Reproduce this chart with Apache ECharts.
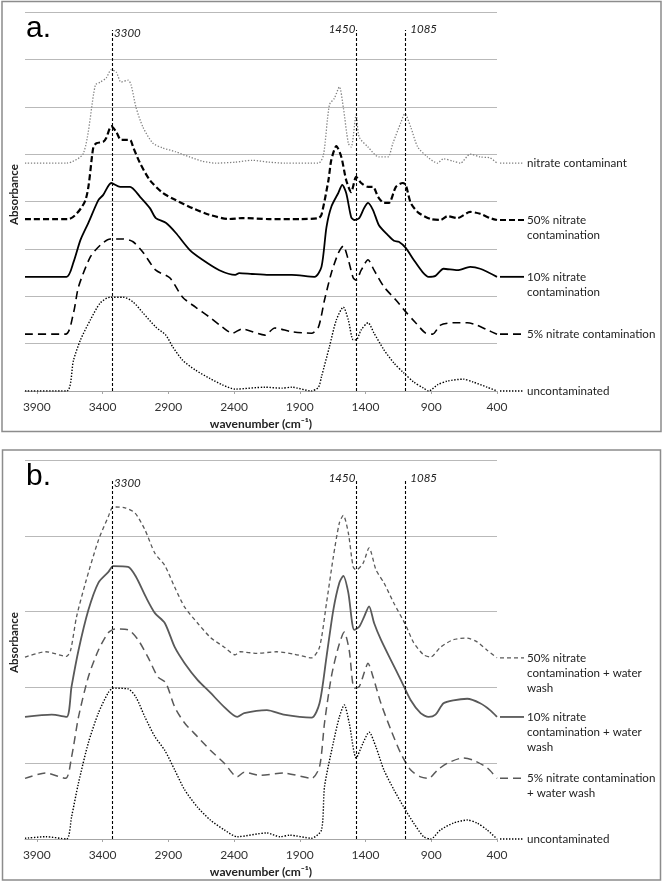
<!DOCTYPE html>
<html><head><meta charset="utf-8">
<script src="https://cdn.jsdelivr.net/npm/echarts@6/dist/echarts.min.js"></script>
<style>html,body{margin:0;padding:0;background:#fff}#c{width:664px;height:883px}</style>
</head><body><div id="c"></div>
<script>
// ---------- data (wavenumber cm-1, absorbance in stacked offset units) ----------
const wavenumberTicks = [3900, 3400, 2900, 2400, 1900, 1400, 900, 400];
const markerLabels = ['3300', '1450', '1085'];
const markerPositions = [3328, 1470, 1097];
const markerTopA = 7.62;
const markerTopB = 4.74;
const labelsA = ['nitrate contaminant', '50% nitrate\ncontamination', '10% nitrate\ncontamination', '5% nitrate contamination', 'uncontaminated'];
const labelsB = ['50% nitrate\ncontamination + water\nwash', '10% nitrate\ncontamination + water\nwash', '5% nitrate contamination\n+ water wash', 'uncontaminated'];

const nitrateContaminant = [[3990,4.81],[3674,4.81],[3545,5.02],[3455,6.46],[3417,6.52],[3372,6.61],[3334,6.78],[3296,6.73],[3259,6.52],[3206,6.56],[3183,6.46],[3146,5.99],[3093,5.57],[3017,5.23],[2942,5.13],[2844,5.05],[2738,4.94],[2640,4.85],[2542,4.81],[2391,4.83],[2263,4.87],[2135,4.83],[2014,4.81],[1758,4.81],[1720,4.98],[1675,6.04],[1637,6.18],[1599,6.42],[1569,5.99],[1531,5.23],[1509,5.15],[1471,5.83],[1448,5.36],[1381,5.15],[1298,4.94],[1230,4.94],[1192,5.23],[1132,5.66],[1101,5.85],[1056,5.57],[1003,5.15],[928,4.94],[853,4.81],[807,4.90],[732,4.85],[679,4.81],[604,5.00],[528,4.94],[453,4.92],[400,4.81]];
const nitrate50 = [[3990,3.63],[3659,3.63],[3530,4.03],[3470,5.15],[3447,5.23],[3395,5.26],[3372,5.34],[3334,5.59],[3296,5.47],[3259,5.30],[3191,5.30],[3168,5.15],[3115,4.81],[3040,4.45],[2942,4.18],[2844,4.03],[2716,3.86],[2587,3.72],[2437,3.63],[2339,3.65],[2135,3.63],[1886,3.63],[1758,3.65],[1735,3.72],[1682,4.45],[1660,4.88],[1622,5.17],[1584,4.94],[1547,4.45],[1509,4.20],[1471,4.52],[1433,4.39],[1381,4.31],[1343,4.31],[1305,4.10],[1260,3.97],[1222,3.97],[1169,4.31],[1117,4.39],[1094,4.35],[1056,3.97],[996,3.76],[905,3.63],[830,3.61],[777,3.69],[702,3.65],[604,3.78],[528,3.74],[453,3.65],[400,3.61]];
const nitrate10 = [[3990,2.41],[3674,2.41],[3621,2.72],[3568,3.19],[3508,3.55],[3432,4.03],[3395,4.14],[3334,4.39],[3266,4.31],[3191,4.31],[3115,4.10],[3040,3.86],[2995,3.65],[2919,3.55],[2844,3.34],[2738,2.98],[2640,2.77],[2512,2.55],[2391,2.45],[2361,2.49],[2263,2.47],[2135,2.45],[1961,2.45],[1788,2.41],[1735,2.62],[1697,3.46],[1660,3.89],[1607,4.18],[1577,4.35],[1547,4.18],[1509,3.67],[1486,3.61],[1448,3.65],[1411,3.86],[1381,3.97],[1343,3.82],[1298,3.50],[1230,3.29],[1184,3.17],[1147,3.15],[1094,3.02],[1034,2.77],[966,2.51],[920,2.41],[868,2.43],[807,2.58],[702,2.55],[604,2.62],[528,2.58],[400,2.41]];
const nitrate5 = [[3990,1.20],[3681,1.20],[3621,1.65],[3583,2.20],[3493,2.83],[3417,3.08],[3342,3.21],[3244,3.21],[3168,3.15],[3093,2.93],[2995,2.55],[2889,2.39],[2791,1.98],[2693,1.77],[2587,1.56],[2489,1.35],[2414,1.22],[2339,1.31],[2165,1.18],[2090,1.33],[1961,1.25],[1811,1.22],[1758,1.35],[1712,1.92],[1660,2.49],[1607,2.91],[1569,3.06],[1531,2.77],[1494,2.39],[1471,2.34],[1433,2.55],[1381,2.77],[1335,2.55],[1260,2.20],[1169,1.92],[1094,1.67],[1019,1.44],[943,1.22],[890,1.20],[830,1.39],[732,1.44],[626,1.44],[551,1.39],[475,1.29],[400,1.20]];
const uncontaminatedA = [[3990,0],[3674,0],[3621,0.65],[3568,1.08],[3493,1.50],[3417,1.86],[3342,1.98],[3244,1.98],[3168,1.88],[3093,1.65],[2995,1.35],[2919,1.18],[2866,0.93],[2791,0.65],[2693,0.44],[2587,0.27],[2489,0.13],[2391,0.04],[2165,0.08],[2037,0.06],[1961,0.08],[1811,0],[1758,0.08],[1735,0.30],[1675,0.93],[1622,1.50],[1569,1.77],[1531,1.50],[1494,1.08],[1471,1.08],[1433,1.29],[1381,1.44],[1335,1.22],[1260,0.87],[1184,0.59],[1109,0.38],[1034,0.19],[958,0.06],[920,0],[853,0.13],[777,0.21],[656,0.25],[581,0.19],[475,0.08],[400,0]];

const wash50 = [[3990,2.40],[3832,2.47],[3674,2.41],[3643,2.49],[3598,2.93],[3530,3.38],[3432,3.94],[3357,4.25],[3319,4.38],[3229,4.37],[3153,4.30],[3078,4.08],[3002,3.77],[2927,3.61],[2851,3.32],[2776,3.06],[2678,2.85],[2580,2.66],[2474,2.53],[2391,2.43],[2354,2.47],[2225,2.45],[2075,2.47],[1946,2.44],[1811,2.39],[1750,2.53],[1697,3.11],[1645,3.72],[1599,4.17],[1569,4.27],[1531,4.04],[1494,3.59],[1471,3.55],[1418,3.64],[1373,3.84],[1320,3.55],[1260,3.38],[1184,3.11],[1094,2.82],[1034,2.59],[958,2.43],[905,2.40],[830,2.53],[732,2.63],[626,2.65],[551,2.60],[475,2.49],[400,2.39]];
const wash10 = [[3990,1.61],[3787,1.64],[3674,1.61],[3636,2.01],[3583,2.49],[3508,3.02],[3432,3.38],[3357,3.52],[3319,3.60],[3206,3.59],[3146,3.46],[3070,3.19],[3002,2.98],[2927,2.85],[2851,2.53],[2776,2.32],[2678,2.10],[2580,1.93],[2474,1.74],[2376,1.61],[2323,1.66],[2150,1.70],[2022,1.64],[1811,1.60],[1750,1.79],[1697,2.40],[1645,3.02],[1599,3.38],[1569,3.47],[1531,3.25],[1486,2.76],[1448,2.80],[1411,2.93],[1373,3.07],[1335,2.85],[1283,2.63],[1207,2.36],[1132,2.10],[1056,1.83],[981,1.66],[920,1.61],[868,1.64],[807,1.79],[732,1.83],[626,1.85],[528,1.79],[453,1.70],[400,1.61]];
const wash5 = [[3990,0.80],[3832,0.87],[3681,0.80],[3636,1.08],[3583,1.61],[3508,2.14],[3432,2.49],[3357,2.72],[3304,2.77],[3206,2.76],[3131,2.63],[3055,2.40],[2980,2.14],[2919,2.06],[2851,1.74],[2776,1.53],[2678,1.35],[2580,1.17],[2474,1.00],[2376,0.82],[2323,0.88],[2203,0.84],[2022,0.87],[1811,0.80],[1750,0.95],[1712,1.53],[1660,2.14],[1607,2.53],[1562,2.73],[1524,2.49],[1486,1.99],[1448,2.01],[1411,2.19],[1381,2.32],[1343,2.14],[1283,1.79],[1207,1.44],[1132,1.13],[1056,0.91],[981,0.82],[920,0.80],[853,0.91],[777,1.00],[656,1.07],[581,1.04],[475,0.94],[400,0.80]];
const uncontaminatedB = [[3990,0.01],[3832,0.03],[3674,0],[3636,0.29],[3583,0.74],[3508,1.27],[3432,1.66],[3357,1.93],[3319,1.99],[3206,1.98],[3146,1.87],[3078,1.61],[3002,1.35],[2927,1.17],[2851,0.91],[2776,0.65],[2678,0.42],[2580,0.25],[2474,0.12],[2376,0.03],[2150,0.08],[2052,0.03],[1976,0.05],[1811,0.01],[1735,0.12],[1712,0.69],[1645,1.27],[1599,1.61],[1562,1.77],[1524,1.53],[1471,1.07],[1418,1.27],[1373,1.41],[1320,1.21],[1260,0.91],[1184,0.65],[1109,0.42],[1034,0.21],[958,0.03],[905,0],[830,0.12],[732,0.21],[626,0.25],[551,0.21],[475,0.12],[400,0]];

// ---------- styles ----------
const stylesA = [
  {color:'#808080', width:1.3, dash:[1.3,1.7]},
  {color:'#000000', width:2.2, dash:[6,3]},
  {color:'#000000', width:1.8, dash:'solid'},
  {color:'#000000', width:1.6, dash:[8,5]},
  {color:'#000000', width:1.4, dash:[1.4,1.6]}
];
const stylesB = [
  {color:'#595959', width:1.3, dash:[4,3]},
  {color:'#595959', width:1.8, dash:'solid'},
  {color:'#595959', width:1.5, dash:[8,5]},
  {color:'#000000', width:1.4, dash:[1.4,1.6]}
];
const markerDx = [2, -1, 5];
const markerDy = [3.5, -1, -1];
const markerAlign = ['left', 'right', 'left'];
const FONT = 'Lato';
const GRID_COLOR = '#b9b9b9';

const panels = [
  {data:[nitrateContaminant, nitrate50, nitrate10, nitrate5, uncontaminatedA], labels:labelsA, styles:stylesA, top:markerTopA, ymax:8, letter:'a.'},
  {data:[wash50, wash10, wash5, uncontaminatedB], labels:labelsB, styles:stylesB, top:markerTopB, ymax:5, letter:'b.'}
];

const chart = echarts.init(document.getElementById('c'), null, {renderer:'canvas'});

const grids = [
  {left:21, right:167, top:12, height:379},
  {left:21, right:167, top:460, height:379}
];
const xAxes = panels.map((p, gi) => ({
  type:'value', gridIndex:gi, min:400, max:3990, inverse:true,
  axisLine:{show:true, onZero:false, lineStyle:{color:'#a6a6a6', width:1}},
  axisTick:{show:true, length:3, inside:false, customValues:wavenumberTicks, lineStyle:{color:'#a6a6a6'}},
  axisLabel:{show:true, customValues:wavenumberTicks, formatter:v => String(v), margin:10, color:'#333', fontFamily:FONT, fontSize:12, lineHeight:13},
  splitLine:{show:false},
  name:'wavenumber (cm⁻¹)', nameLocation:'middle', nameGap:27,
  nameTextStyle:{fontFamily:FONT, fontWeight:'bold', fontSize:12, color:'#222', lineHeight:13}
}));
const yAxes = panels.map((p, gi) => ({
  type:'value', gridIndex:gi, min:0, max:p.ymax, interval:1,
  axisLine:{show:false}, axisTick:{show:false}, axisLabel:{show:false},
  splitLine:{show:true, lineStyle:{color:GRID_COLOR, width:1}},
  name:'Absorbance', nameLocation:'middle', nameGap:5,
  nameTextStyle:{fontFamily:FONT, fontWeight:'bold', fontSize:11.5, color:'#222', padding:[0,0,0,14]}
}));

const series = [];
panels.forEach((p, pi) => {
  p.data.forEach((d, i) => {
    const st = p.styles[i];
    const s = {
      type:'line', xAxisIndex:pi, yAxisIndex:pi, data:d, showSymbol:false, symbol:'none',
      smooth:0.25, silent:true, z:3,
      lineStyle:{color:st.color, width:st.width, type:st.dash}
    };
    if (i === p.data.length - 1) {
      s.markLine = {
        symbol:'none', silent:true, label:{show:false},
        lineStyle:{color:'#000', width:1.1, type:[3,2]},
        data: markerPositions.map(w => [{coord:[w, 0]}, {coord:[w, p.top]}])
      };
    }
    series.push(s);
  });
});

chart.setOption({
  animation:false,
  grid:grids, xAxis:xAxes, yAxis:yAxes, series:series
});

// ---------- annotations positioned through the chart's own scales ----------
const g = [];
g.push({type:'rect', shape:{x:2, y:1.5, width:659, height:430}, style:{fill:'none', stroke:'#8c8c8c', lineWidth:1.5}, silent:true});
g.push({type:'rect', shape:{x:2.5, y:450, width:658, height:430}, style:{fill:'none', stroke:'#8c8c8c', lineWidth:1.5}, silent:true});
panels.forEach((p, pi) => {
  const corner = chart.convertToPixel({gridIndex:pi}, [3990, p.ymax]);
  g.push({type:'text', x:corner[0] + 1, y:corner[1] + 17, silent:true,
    style:{text:p.letter, font:'30px "Liberation Sans"', fill:'#000', verticalAlign:'middle'}});
  markerPositions.forEach((w, k) => {
    const pt = chart.convertToPixel({gridIndex:pi}, [w, p.top]);
    g.push({type:'text', x:pt[0] + markerDx[k], y:pt[1] + markerDy[k], silent:true,
      style:{text:markerLabels[k], font:'italic 11.5px ' + FONT, fill:'#222', align:markerAlign[k], verticalAlign:'middle'}});
  });
  p.data.forEach((d, i) => {
    const st = p.styles[i];
    const pt = chart.convertToPixel({gridIndex:pi}, d[d.length - 1]);
    g.push({type:'line', silent:true, shape:{x1:pt[0] + 3, y1:pt[1], x2:pt[0] + 27, y2:pt[1]},
      style:{stroke:st.color, lineWidth:st.width, lineDash: st.dash === 'solid' ? null : st.dash}});
    g.push({type:'text', x:pt[0] + 30, y:pt[1] - 7.5, silent:true,
      style:{text:p.labels[i], font:'11.6px ' + FONT, fill:'#222', lineHeight:15, verticalAlign:'top'}});
  });
});
chart.setOption({graphic:{elements:g}});
</script>
</body></html>
